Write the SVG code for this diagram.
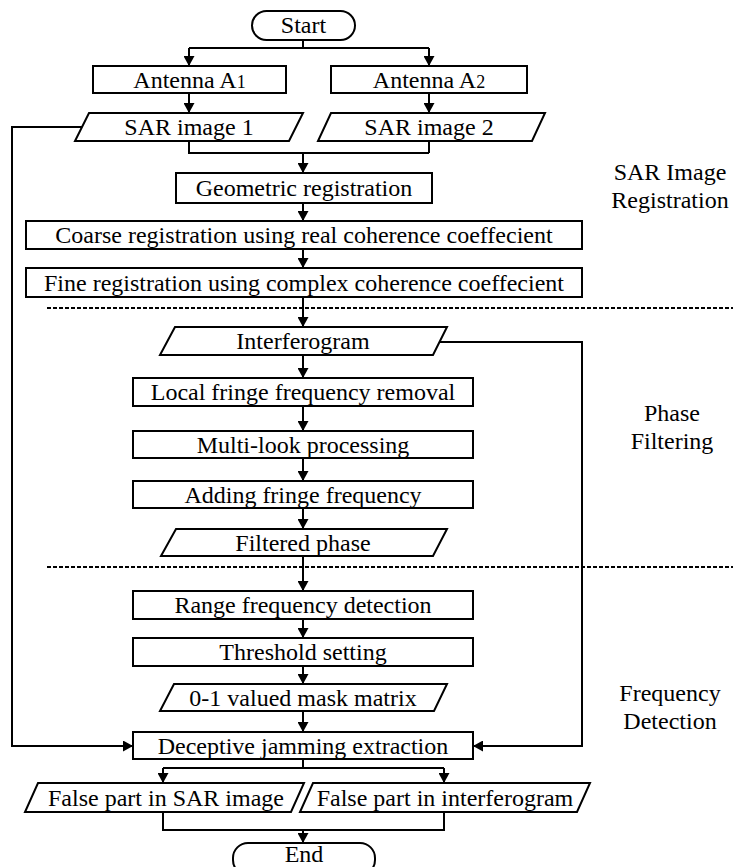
<svg xmlns="http://www.w3.org/2000/svg" width="733" height="867" viewBox="0 0 733 867">
<style>
.b{fill:#fff;stroke:#000;stroke-width:2}
text{font-family:"Liberation Serif","Times New Roman",serif;font-size:24px;fill:#000;text-anchor:middle}
.c{fill:none;stroke:#000;stroke-width:2}
.d{fill:none;stroke:#000;stroke-width:2;stroke-dasharray:4 2}
</style>
<defs>
<marker id="ah" markerUnits="userSpaceOnUse" markerWidth="11" markerHeight="11" refX="10" refY="5.5" orient="auto" viewBox="0 0 11 11">
<path d="M0,0 L10,5.5 L0,11 z" fill="#000"/>
</marker>
</defs>
<rect width="733" height="867" fill="#fff"/>
<g id="connectors">
<path class="c" d="M303,40 V48 M189,48 H429"/>
<path class="c" d="M189,48 V66" marker-end="url(#ah)"/>
<path class="c" d="M429,48 V66" marker-end="url(#ah)"/>
<path class="c" d="M189,93 V113" marker-end="url(#ah)"/>
<path class="c" d="M429,93 V113" marker-end="url(#ah)"/>
<path class="c" d="M189,141 V153 H429 M429,141 V153"/>
<path class="c" d="M303,153 V173" marker-end="url(#ah)"/>
<path class="c" d="M303,203 V221" marker-end="url(#ah)"/>
<path class="c" d="M303,249 V268" marker-end="url(#ah)"/>
<path class="c" d="M303,297 V327" marker-end="url(#ah)"/>
<path class="c" d="M303,355 V378" marker-end="url(#ah)"/>
<path class="c" d="M303,406 V431" marker-end="url(#ah)"/>
<path class="c" d="M303,458 V481" marker-end="url(#ah)"/>
<path class="c" d="M303,508 V529" marker-end="url(#ah)"/>
<path class="c" d="M303,556 V591" marker-end="url(#ah)"/>
<path class="c" d="M303,619 V638" marker-end="url(#ah)"/>
<path class="c" d="M303,666 V684" marker-end="url(#ah)"/>
<path class="c" d="M303,711 V732" marker-end="url(#ah)"/>
<path class="c" d="M82,127 H12 V746 H133" marker-end="url(#ah)"/>
<path class="c" d="M440,342 H582 V746 H473" marker-end="url(#ah)"/>
<path class="c" d="M303,759 V768 M163,768 H444"/>
<path class="c" d="M163,768 V783" marker-end="url(#ah)"/>
<path class="c" d="M444,768 V783" marker-end="url(#ah)"/>
<path class="c" d="M163,812 V830 H444 V812"/>
<path class="c" d="M303,830 V843" marker-end="url(#ah)"/>
<path class="d" d="M47,308 H733"/>
<path class="d" d="M47,567 H733"/>
</g>
<g id="start"><rect class="b" x="252" y="11" width="103" height="29" rx="14.5"/><text x="303.5" y="33">Start</text></g>
<g id="antenna1"><rect class="b" x="93" y="66" width="193" height="27"/><text x="189.5" y="87.5">Antenna A<tspan font-size="18">1</tspan></text></g>
<g id="antenna2"><rect class="b" x="331" y="66" width="196" height="27"/><text x="429" y="87.5">Antenna A<tspan font-size="18">2</tspan></text></g>
<g id="sar1"><polygon class="b" points="89,113 303,113 289,141 75,141"/><text x="189" y="135">SAR image 1</text></g>
<g id="sar2"><polygon class="b" points="331,113 545,113 532,141 318,141"/><text x="429" y="135">SAR image 2</text></g>
<g id="geometric"><rect class="b" x="176" y="173" width="256" height="30"/><text x="304" y="196">Geometric registration</text></g>
<g id="coarse"><rect class="b" x="26" y="221" width="556" height="28"/><text x="304" y="243">Coarse registration using real coherence coeffecient</text></g>
<g id="fine"><rect class="b" x="26" y="268" width="556" height="29"/><text x="304" y="290.5">Fine registration using complex coherence coeffecient</text></g>
<g id="interferogram"><polygon class="b" points="175,327 447,327 433,355 160,355"/><text x="303" y="349">Interferogram</text></g>
<g id="local"><rect class="b" x="133" y="378" width="340" height="28"/><text x="303" y="400">Local fringe frequency removal</text></g>
<g id="multilook"><rect class="b" x="133" y="431" width="340" height="27"/><text x="303" y="452.5">Multi-look processing</text></g>
<g id="adding"><rect class="b" x="133" y="481" width="340" height="27"/><text x="303" y="502.5">Adding fringe frequency</text></g>
<g id="filtered"><polygon class="b" points="176,529 447,529 433,556 161,556"/><text x="303" y="550.5">Filtered phase</text></g>
<g id="range"><rect class="b" x="133" y="591" width="340" height="28"/><text x="303" y="613">Range frequency detection</text></g>
<g id="threshold"><rect class="b" x="133" y="638" width="340" height="28"/><text x="303" y="660">Threshold setting</text></g>
<g id="mask"><polygon class="b" points="174,684 447,684 434,711 160,711"/><text x="303" y="705.5">0-1 valued mask matrix</text></g>
<g id="deceptive"><rect class="b" x="133" y="732" width="340" height="27"/><text x="303" y="753.5">Deceptive jamming extraction</text></g>
<g id="falsesar"><polygon class="b" points="38,783 304,783 291,812 25,812"/><text x="166" y="806">False part in SAR image</text></g>
<g id="falseint"><polygon class="b" points="313,783 590,783 577,812 300,812"/><text x="445" y="806">False part in interferogram</text></g>
<g id="end"><rect class="b" x="233" y="843" width="142" height="32" rx="15"/><text x="304" y="862">End</text></g>
<g id="labels">
<text x="670" y="180">SAR Image</text>
<text x="670" y="208">Registration</text>
<text x="672" y="421">Phase</text>
<text x="672" y="449">Filtering</text>
<text x="670" y="701">Frequency</text>
<text x="670" y="729">Detection</text>
</g>
</svg>
